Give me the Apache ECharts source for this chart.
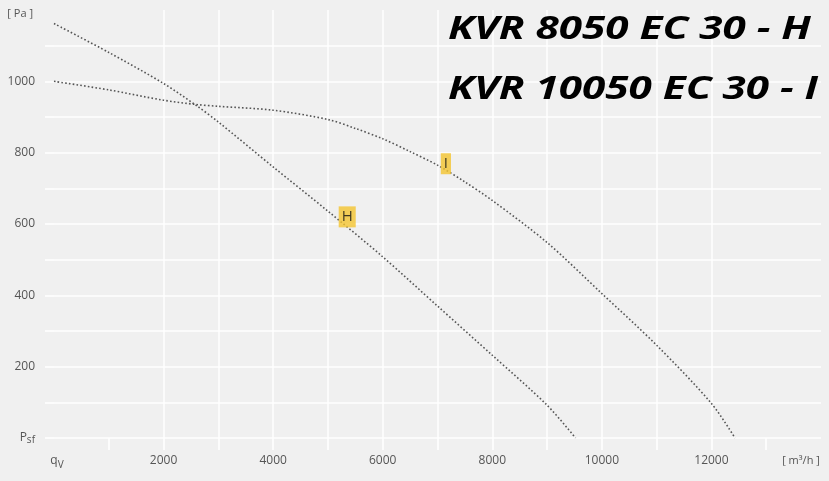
<!DOCTYPE html>
<html>
<head>
<meta charset="utf-8">
<script src="https://cdn.jsdelivr.net/npm/echarts@6/dist/echarts.min.js"></script>
<style>
html,body{margin:0;padding:0;background:#f0f0f0;}
#c{width:829px;height:481px;}
</style>
</head>
<body>
<div id="c"></div>
<script>
// Curve H (KVR 8050 EC 30 - H)
const flowH = [0, 1000, 2000, 2600, 3000, 4000, 5000, 6000, 7000, 8000, 9000, 9520];
const pressH = [1162, 1081, 994, 932, 886, 760, 636, 508, 370, 232, 92, 0];
// Curve I (KVR 10050 EC 30 - I)
const flowI = [0, 1000, 2000, 2600, 3000, 4000, 5000, 5500, 6000, 6500, 7000, 7500, 8000, 9000, 10000, 11000, 12000, 12430];
const pressI = [1000, 976, 947, 935, 930, 919, 893, 868, 839, 803, 765, 718, 666, 548, 405, 260, 97, 0];
// curve tags
const tagNames = ['H', 'I'];
const tagFlow = [5352, 7153];
const tagPress = [620, 769];
// axis labels
const xTickLabels = {0: 'q', 2000: '2000', 4000: '4000', 6000: '6000', 8000: '8000', 10000: '10000', 12000: '12000', 14000: '[ m³/h ]'};
const yTickLabels = {0: 'P', 200: '200', 400: '400', 600: '600', 800: '800', 1000: '1000', 1200: '[ Pa ]'};
const xGridValues = [1000, 2000, 3000, 4000, 5000, 6000, 7000, 8000, 9000, 10000, 11000, 12000, 13000];
const yGridValues = [0, 100, 200, 300, 400, 500, 600, 700, 800, 900, 1000, 1100];
const titleLines = ['KVR 8050 EC 30 - H', 'KVR 10050 EC 30 - I'];

const chart = echarts.init(document.getElementById('c'), null, {renderer: 'canvas'});
const lineStyle = {color: '#555', width: 1.6, type: [1.6, 2.2], cap: 'butt'};
const font = '"Open Sans", "DejaVu Sans", sans-serif';
const titleFont = 'italic bold 32px "Open Sans", sans-serif';

chart.setOption({
  backgroundColor: '#f0f0f0',
  animation: false,
  grid: {left: 54, right: 8, top: 10, bottom: 43},
  xAxis: {
    type: 'value', min: 0, max: 14000, interval: 1000,
    axisLine: {show: false},
    axisTick: {show: true, length: 12, customValues: xGridValues, lineStyle: {color: '#ffffff', width: 1.5}},
    splitLine: {show: true, showMinLine: false, showMaxLine: false, lineStyle: {color: '#ffffff', width: 1.5}},
    axisLabel: {
      margin: 17, color: '#555', fontFamily: font, fontSize: 12,
      formatter: function (v) {
        if (v === 0) return '{q|q}{sub|V}';
        if (v === 14000) return '{u|' + xTickLabels[v] + '}';
        return xTickLabels[v] !== undefined ? xTickLabels[v] : '';
      },
      rich: {
        q: {fontSize: 12, color: '#555', fontFamily: font, padding: [0, 0, 4, 6]},
        sub: {fontSize: 10, color: '#555', fontFamily: font, padding: [4, 0, 0, 0]},
        u: {fontSize: 11, color: '#555', fontFamily: font, padding: [0, 40, 0, 0]}
      }
    }
  },
  yAxis: {
    type: 'value', min: 0, max: 1200, interval: 100,
    axisLine: {show: false},
    axisTick: {show: true, length: 9, customValues: yGridValues, lineStyle: {color: '#ffffff', width: 1.5}},
    splitLine: {show: true, lineStyle: {color: '#ffffff', width: 1.5}},
    axisLabel: {
      margin: 19, color: '#555', fontFamily: font, fontSize: 12,
      formatter: function (v) {
        if (v === 0) return '{p|P}{sub|sf}';
        if (v === 1200) return '{u|' + yTickLabels[v] + '}';
        return yTickLabels[v] !== undefined ? yTickLabels[v] : '';
      },
      rich: {
        p: {fontSize: 12, color: '#555', fontFamily: font},
        sub: {fontSize: 10, color: '#555', fontFamily: font, padding: [5, 0, 0, 0]},
        u: {fontSize: 11, color: '#555', fontFamily: font, padding: [8, 2, 0, 0]}
      }
    }
  },
  series: [
    {
      type: 'line', name: 'H', showSymbol: false, smooth: 0.3,
      data: flowH.map((q, i) => [q, pressH[i]]),
      lineStyle: lineStyle, z: 2
    },
    {
      type: 'line', name: 'I', showSymbol: false, smooth: 0.3,
      data: flowI.map((q, i) => [q, pressI[i]]),
      lineStyle: lineStyle, z: 2
    },
    {
      type: 'scatter', symbolSize: 1, itemStyle: {color: 'rgba(0,0,0,0)'}, z: 5,
      data: tagNames.map((n, i) => ({value: [tagFlow[i], tagPress[i]], name: n})),
      label: {
        show: true, position: 'inside', formatter: '{b}',
        backgroundColor: '#f4c430', color: '#111', fontFamily: font, fontSize: 15, fontWeight: 500,
        padding: [2, 3, 1, 3], lineHeight: 18
      }
    }
  ],
  graphic: [
    {type: 'text', x: 448, y: 30, scaleX: 1.32, z: 100, style: {text: titleLines[0], font: titleFont, fill: '#000', align: 'left', verticalAlign: 'middle'}},
    {type: 'text', x: 448, y: 90, scaleX: 1.32, z: 100, style: {text: titleLines[1], font: titleFont, fill: '#000', align: 'left', verticalAlign: 'middle'}}
  ]
});
</script>
</body>
</html>
